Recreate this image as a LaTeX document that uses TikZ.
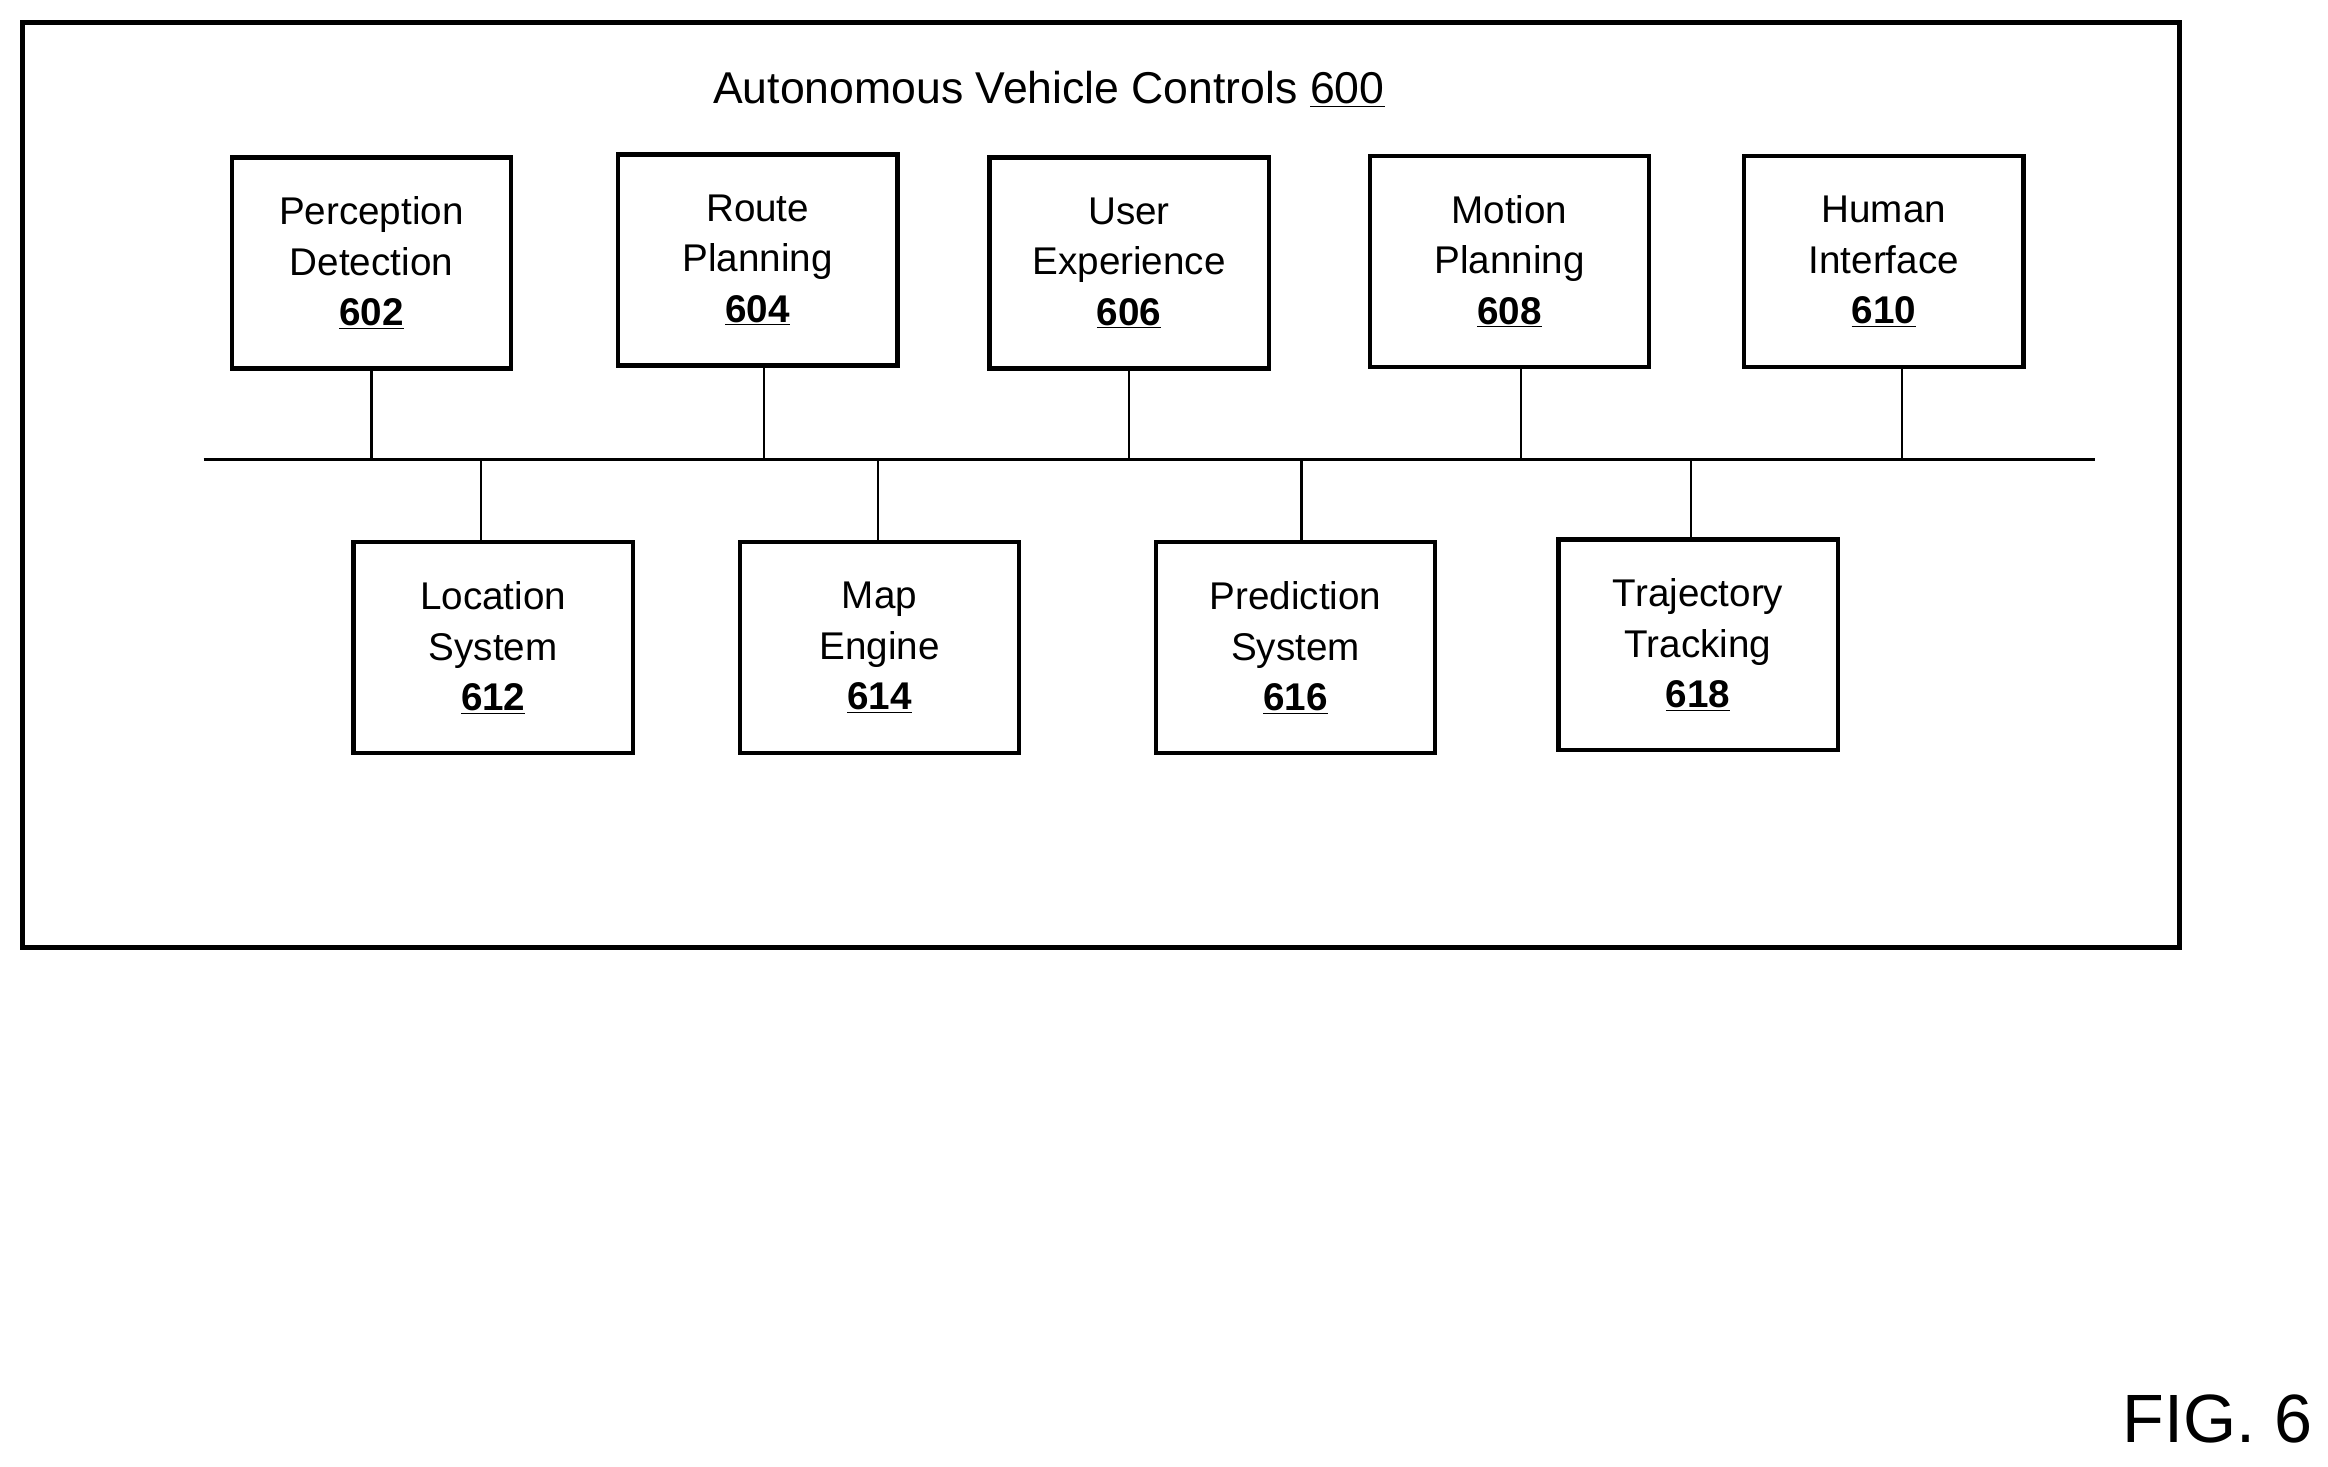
\documentclass[tikz,border=0pt]{standalone}
\usepackage{fontspec}
\setmainfont{Liberation Sans}
\begin{document}
\begin{tikzpicture}[x=1pt,y=-1pt,
  box/.style={draw,line width=3pt,minimum width=188pt,minimum height=142pt,align=center,font=\fontsize{26}{34}\selectfont,inner sep=0pt},
  ln/.style={line width=1.5pt}]
\useasboundingbox (0,0) rectangle (1567,987);
\draw[line width=3.5pt] (15,15) rectangle (1467,638);
\node[font=\fontsize{30}{36}\selectfont] (title) at (706,60) {Autonomous Vehicle Controls \underline{600}};
\newcommand{\num}[1]{\textbf{\underline{#1}}}
\node[box] (b602) at (250,177) {Perception\\Detection\\\num{602}};
\node[box] (b604) at (510,175) {Route\\Planning\\\num{604}};
\node[box] (b606) at (760,177) {User\\Experience\\\num{606}};
\node[box] (b608) at (1016,176) {Motion\\Planning\\\num{608}};
\node[box] (b610) at (1268,176) {Human\\Interface\\\num{610}};
\node[box] (b612) at (332,436) {Location\\System\\\num{612}};
\node[box] (b614) at (592,436) {Map\\Engine\\\num{614}};
\node[box] (b616) at (872,436) {Prediction\\System\\\num{616}};
\node[box] (b618) at (1143,434) {Trajectory\\Tracking\\\num{618}};
\coordinate (bl) at (137,309); \coordinate (br) at (1410,309);
\draw[line width=2pt] (bl) -- (br);
\foreach \n/\x in {b602/250,b604/514,b606/760,b608/1024,b610/1280}
  \draw[ln] (\n.south -| \x,0) -- (\x,309);
\foreach \n/\x in {b612/324,b614/591,b616/876,b618/1138}
  \draw[ln] (\n.north -| \x,0) -- (\x,309);
\node[font=\fontsize{46}{50}\selectfont,anchor=east] (fig) at (1560,955) {FIG. 6};
\end{tikzpicture}
\end{document}
